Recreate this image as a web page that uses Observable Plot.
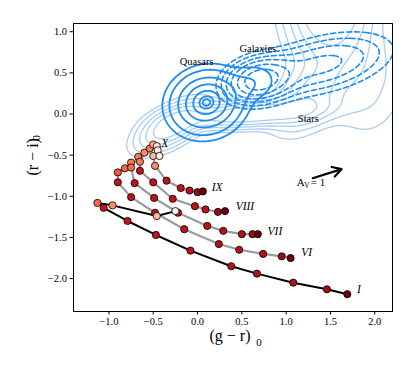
<!DOCTYPE html>
<html><head><meta charset="utf-8">
<script src="https://cdn.jsdelivr.net/npm/d3@7"></script>
<script src="https://cdn.jsdelivr.net/npm/@observablehq/plot@0.6"></script>
<style>
html,body{margin:0;padding:0;background:#fff;}
#chart{width:415px;height:374px;}
</style></head><body><div id="chart"></div>
<script>
// ---- axes ----
const xTicks = [-1.0, -0.5, 0.0, 0.5, 1.0, 1.5, 2.0];
const yTicks = [-2.0, -1.5, -1.0, -0.5, 0.0, 0.5, 1.0];
const xDomain = [-1.4, 2.2];
const yDomain = [-2.4, 1.1];

// ---- tracks (g-r, r-i, colour value) ----
const trackI_x = [-0.25, -0.46, -0.96, -1.13, -1.06, -0.79, -0.47, -0.08, 0.38, 0.67, 1.08, 1.46, 1.69];
const trackI_y = [-1.18, -1.24, -1.11, -1.08, -1.14, -1.30, -1.47, -1.66, -1.85, -1.94, -2.05, -2.13, -2.19];
const trackI_c = [0.05, 0.25, 0.40, 0.50, 0.78, 0.80, 0.80, 0.80, 0.82, 0.82, 0.84, 0.88, 1.0];

const trackVI_x = [-0.75, -0.82, -0.90, -0.90, -0.75, -0.48, -0.15, 0.24, 0.47, 0.74, 0.95, 1.05];
const trackVI_y = [-0.59, -0.66, -0.71, -0.83, -1.01, -1.20, -1.40, -1.58, -1.65, -1.70, -1.73, -1.75];
const trackVI_c = [0.45, 0.50, 0.55, 0.80, 0.80, 0.80, 0.80, 0.82, 0.82, 0.84, 0.90, 1.0];

const trackVII_x = [-0.67, -0.75, -0.71, -0.49, -0.22, 0.11, 0.29, 0.50, 0.62, 0.68];
const trackVII_y = [-0.52, -0.65, -0.84, -1.02, -1.20, -1.36, -1.42, -1.46, -1.46, -1.46];
const trackVII_c = [0.45, 0.50, 0.80, 0.80, 0.80, 0.80, 0.82, 0.84, 0.90, 1.0];

const trackVIII_x = [-0.60, -0.65, -0.65, -0.50, -0.28, -0.03, 0.09, 0.23, 0.31];
const trackVIII_y = [-0.47, -0.58, -0.69, -0.83, -1.03, -1.12, -1.16, -1.19, -1.18];
const trackVIII_c = [0.40, 0.45, 0.78, 0.80, 0.80, 0.80, 0.82, 0.90, 1.0];

const trackIX_x = [-0.50, -0.48, -0.35, -0.19, -0.09, 0.00, 0.06];
const trackIX_y = [-0.51, -0.63, -0.81, -0.90, -0.93, -0.95, -0.94];
const trackIX_c = [0.25, 0.40, 0.80, 0.80, 0.82, 0.90, 1.0];

const trackX_x = [-0.54, -0.50, -0.46, -0.45, -0.43];
const trackX_y = [-0.42, -0.37, -0.39, -0.44, -0.51];
const trackX_c = [0.45, 0.30, 0.10, 0.05, 0.05];

const trackNames = ["I", "VI", "VII", "VIII", "IX", "X"];
const trackLabelX = [1.80, 1.17, 0.79, 0.43, 0.16, -0.41];
const trackLabelY = [-2.13, -1.68, -1.42, -1.12, -0.89, -0.36];

// ---- density contours: [centre x, centre y, sigma along axis, sigma across, axis angle (deg), amplitude] ----
const quasarComps = [[0.10, 0.14, 0.21, 0.19, 30, 1.0], [0.62, 0.38, 0.18, 0.14, 20, 0.11]];
const quasarLevels = [0.053, 0.126, 0.30, 0.53, 0.77, 0.93, 0.98];
const galaxyComps = [[0.69, 0.41, 0.22, 0.15, 15, 1.0], [1.4, 0.6, 0.48, 0.2, 15, 0.45]];
const galaxyLevels = [0.10, 0.17, 0.27, 0.40, 0.60, 0.85];
const starComps = [
  [-0.30, -0.15, 0.25, 0.12, 33, 0.8],
  [0.60, 0.00, 0.45, 0.09, 5, 0.9],
  [1.25, 0.20, 0.30, 0.18, 50, 0.40],
  [1.50, 1.70, 0.56, 0.26, 88, 1.6],
  [1.90, 0.50, 0.50, 0.30, 90, 0.15]
];
const starLevels = [0.06, 0.12, 0.22, 0.35, 0.55];

const popNames = ["Quasars", "Galaxies", "Stars"];
const popLabelX = [-0.01, 0.68, 1.25];
const popLabelY = [0.64, 0.80, -0.06];

// reddening vector
const arrowStart = [1.30, -0.78];
const arrowEnd = [1.625, -0.67];

// ---- build tables ----
function track(name, xs, ys, cs) {
  return xs.map((x, i) => ({track: name, x, y: ys[i], c: cs[i]}));
}
const greyTracks = [
  ...track("VI", trackVI_x, trackVI_y, trackVI_c),
  ...track("VII", trackVII_x, trackVII_y, trackVII_c),
  ...track("VIII", trackVIII_x, trackVIII_y, trackVIII_c),
  ...track("IX", trackIX_x, trackIX_y, trackIX_c)
];
const blackTracks = [
  ...track("I", trackI_x, trackI_y, trackI_c),
  ...track("X", trackX_x, trackX_y, trackX_c)
];
const allDots = [...greyTracks, ...blackTracks];
const trackLabels = trackNames.map((t, i) => ({t, x: trackLabelX[i], y: trackLabelY[i]}));
const popLabels = popNames.map((t, i) => ({t, x: popLabelX[i], y: popLabelY[i]}));

function densityRings(comps, levels, id) {
  const x0 = -1.8, x1 = 2.6, y0 = -2.8, y1 = 3.0, step = 0.01;
  const nx = Math.round((x1 - x0) / step) + 1, ny = Math.round((y1 - y0) / step) + 1;
  const vals = new Float64Array(nx * ny);
  const cc = comps.map(([cx, cy, sa, sb, th, a]) => [cx, cy, sa, sb, Math.cos(th * Math.PI / 180), Math.sin(th * Math.PI / 180), a]);
  for (let j = 0; j < ny; j++) {
    const y = y0 + j * step;
    for (let i = 0; i < nx; i++) {
      const x = x0 + i * step;
      let v = 0;
      for (const [cx, cy, sa, sb, c, s, a] of cc) {
        const dx = x - cx, dy = y - cy;
        const u = dx * c + dy * s, w = -dx * s + dy * c;
        v += a * Math.exp(-0.5 * (u * u / (sa * sa) + w * w / (sb * sb)));
      }
      vals[j * nx + i] = v;
    }
  }
  const out = [];
  d3.contours().size([nx, ny]).thresholds(levels)(vals).forEach((mp, li) => {
    mp.coordinates.forEach((poly, pi) => poly.forEach((ring, ri) => {
      const k = `${id}-${li}-${pi}-${ri}`;
      ring.forEach(([gx, gy]) => out.push({k, x: x0 + (gx - 0.5) * step, y: y0 + (gy - 0.5) * step}));
    }));
  });
  return out;
}
const starRings = densityRings(starComps, starLevels, "s");
const quasarRings = densityRings(quasarComps, quasarLevels, "q");
const galaxyRings = densityRings(galaxyComps, galaxyLevels, "g");

const serif = "'Liberation Serif', 'Times New Roman', serif";
const plot = Plot.plot({
  width: 415, height: 374,
  marginLeft: 73, marginRight: 23, marginTop: 23, marginBottom: 63,
  style: {fontFamily: serif, fontSize: "10.5px", background: "#fff", color: "#000"},
  x: {domain: xDomain, ticks: xTicks, tickFormat: ".1f", tickSize: 3.5, tickPadding: 3, label: null},
  y: {domain: yDomain, ticks: yTicks, tickFormat: ".1f", tickSize: 3.5, tickPadding: 3, label: null},
  color: {type: "linear", scheme: "reds", domain: [0, 1]},
  marks: [
    Plot.line(starRings, {x: "x", y: "y", z: "k", stroke: "#a9cdf3", strokeWidth: 1.3, clip: true}),
    Plot.line(galaxyRings, {x: "x", y: "y", z: "k", stroke: "#1b8cf0", strokeWidth: 1.6, strokeDasharray: "5,3", clip: true}),
    Plot.line(quasarRings, {x: "x", y: "y", z: "k", stroke: "#1b8cf0", strokeWidth: 1.8, clip: true}),
    Plot.text(popLabels, {x: "x", y: "y", text: "t", fontSize: 10.5, fill: "#000"}),
    Plot.line(greyTracks, {x: "x", y: "y", z: "track", stroke: "#9b9b9b", strokeWidth: 2.2}),
    Plot.line(blackTracks, {x: "x", y: "y", z: "track", stroke: "#000", strokeWidth: 2}),
    Plot.dot(allDots, {x: "x", y: "y", fill: "c", r: 3.6, stroke: "#000", strokeWidth: 0.8}),
    Plot.text(trackLabels, {x: "x", y: "y", text: "t", textAnchor: "start", fontStyle: "italic", fontSize: 11.5, fill: "#000"}),
    Plot.arrow([{x1: arrowStart[0], y1: arrowStart[1], x2: arrowEnd[0], y2: arrowEnd[1]}], {x1: "x1", y1: "y1", x2: "x2", y2: "y2", stroke: "#000", strokeWidth: 2.2, headLength: 7}),
    Plot.text([{x: 1.12, y: -0.836}], {x: "x", y: "y", text: () => "A", textAnchor: "start", fontSize: 11, fill: "#000"}),
    Plot.text([{x: 1.12, y: -0.836}], {x: "x", y: "y", text: () => "V", textAnchor: "start", dx: 7.5, dy: 3, fontSize: 7.5, fill: "#000"}),
    Plot.text([{x: 1.12, y: -0.836}], {x: "x", y: "y", text: () => "= 1", textAnchor: "start", dx: 14, fontSize: 11, fill: "#000"}),
    Plot.frame({stroke: "#000", strokeWidth: 1}),
    Plot.text([0], {frameAnchor: "bottom", text: () => "(g − r)", dx: -3, dy: 29, fontSize: 16, fill: "#000"}),
    Plot.text([0], {frameAnchor: "bottom", text: () => "0", dx: 26, dy: 34, fontSize: 11, fill: "#000"}),
    Plot.text([0], {frameAnchor: "left", text: () => "(r − i)", rotate: -90, dx: -41, dy: 8, fontSize: 16, fill: "#000"}),
    Plot.text([0], {frameAnchor: "left", text: () => "0", rotate: -90, dx: -37, dy: -27, fontSize: 11, fill: "#000"})
  ]
});
document.getElementById("chart").appendChild(plot);
</script>
</body></html>
